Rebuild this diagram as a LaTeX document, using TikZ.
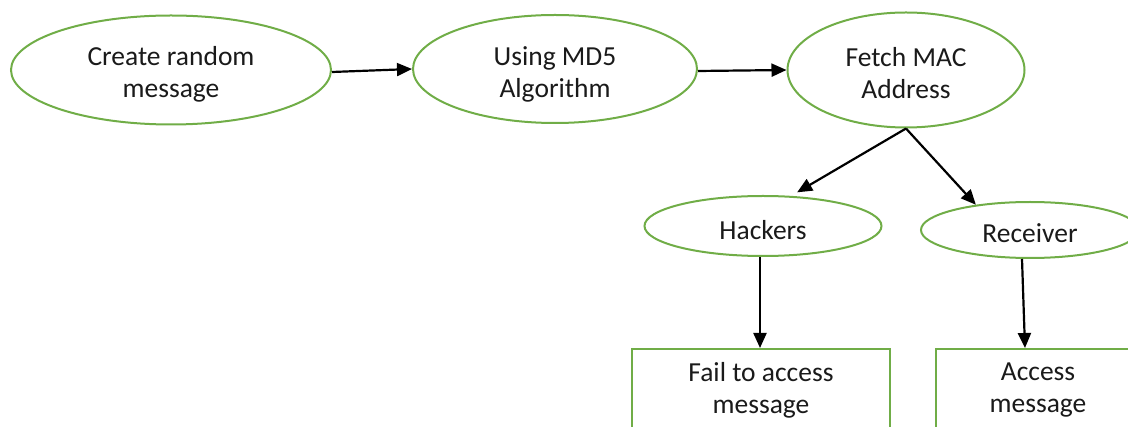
\documentclass[tikz,border=0pt]{standalone}
\usepackage{fontspec}
\setmainfont{Carlito}
\usetikzlibrary{shapes.geometric,arrows.meta,calc}
\definecolor{officegreen}{RGB}{112,173,71}
\definecolor{inkdark}{RGB}{26,26,26}
% tall strut to sit the first text line a little lower in its shape
\newcommand\lowerstrut[1]{\rule{0pt}{#1}}
\begin{document}
\begin{tikzpicture}[x=1pt,y=-1pt,
  txt/.style={text=inkdark, align=center, font=\fontsize{27.5}{32}\selectfont},
  oval/.style={ellipse, draw=officegreen, line width=2pt, inner sep=0pt, txt},
  outbox/.style={rectangle, draw=officegreen, line width=2pt, inner sep=0pt, txt},
  arr/.style={draw=black, line width=2.2pt, -{Triangle[length=15pt,width=13pt]}}]
\useasboundingbox (0,0) rectangle (1128,427);
\clip (0,0) rectangle (1128,427);

% top row: message preparation chain
\node[oval, minimum width=320pt, minimum height=109pt] (create) at (171,70) {\lowerstrut{28pt}Create random\\message};
\node[oval, minimum width=284pt, minimum height=108pt] (md5) at (555,69) {\lowerstrut{30pt}Using MD5\\Algorithm};
\node[oval, minimum width=237pt, minimum height=115pt] (mac) at (906,70) {\lowerstrut{25pt}Fetch MAC\\Address};

% the two parties
\node[oval, minimum width=237pt, minimum height=60pt] (hack) at (763,226) {\lowerstrut{27pt}Hackers};
\node[oval, minimum width=218pt, minimum height=56pt] (recv) at (1030,230) {\lowerstrut{25pt}Receiver};

% outcomes
\node[outbox, minimum width=258pt, minimum height=82pt] (fail) at (761,390) {Fail to access\\message};
\node[outbox, minimum width=204pt, minimum height=82pt] (access) at (1038,390) {Access\\message};

% connectors
\draw[arr] ([yshift=-2pt]create.east) -- (md5.west);
\draw[arr] ([yshift=-2pt]md5.east) -- (mac.west);
\draw[arr, shorten >=7pt] (mac.south) -- (hack.47);
\draw[arr] (mac.south) -- (recv.155);
\draw[arr] ([xshift=-3pt]hack.south) -- ([xshift=-3pt]hack.south |- fail.north);
\draw[arr] ([xshift=-8pt]recv.south) -- ([xshift=-13pt]access.north);
\end{tikzpicture}
\end{document}
